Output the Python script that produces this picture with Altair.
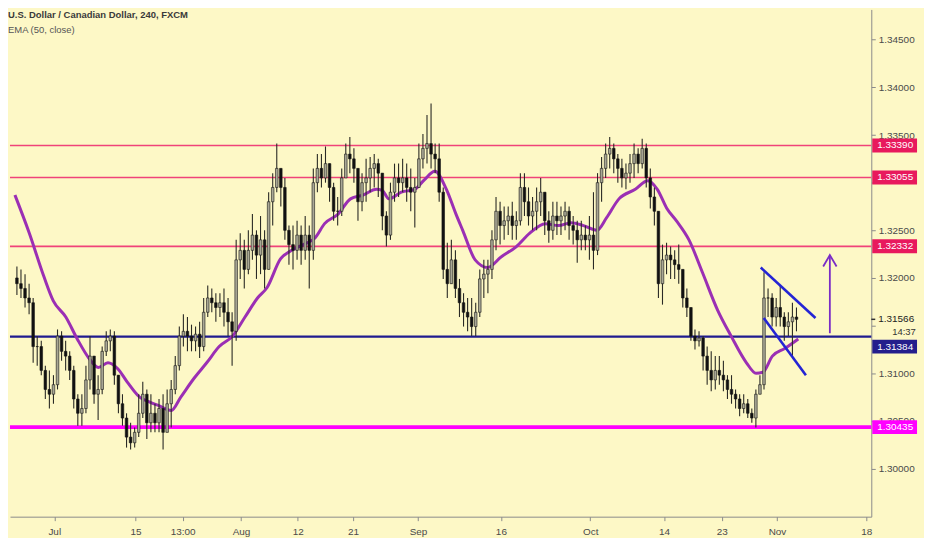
import altair as alt
import numpy as np
import pandas as pd

# ---------------- data ----------------
# price columns: half-day buckets on a trading-day axis (0 = Jul 1)
start_day = -4.6
step_day = 0.5

high = [
 1.3212,1.3209,1.3204,1.3194,1.3179,1.3139,1.3134,1.3108,1.3103,1.3098,
 1.3146,1.3144,1.3134,1.3123,1.3108,1.3078,1.3078,1.3108,1.3139,1.3108,
 1.3098,1.3128,1.3144,1.3146,1.3144,1.3098,1.3078,1.3058,1.3048,1.3043,
 1.3078,1.3091,1.3083,1.3078,1.3068,1.3073,1.3078,1.3083,1.3093,1.3118,
 1.3149,1.3162,1.3159,1.3151,1.3149,1.3154,1.3179,1.3192,1.3189,1.3184,
 1.3184,1.3189,1.3179,1.3164,1.3240,1.3247,1.3240,1.3250,1.3267,1.3250,
 1.3265,1.3250,1.3290,1.3310,1.3341,1.3315,1.3305,1.3255,1.3255,1.3260,
 1.3255,1.3265,1.3255,1.3315,1.3330,1.3330,1.3338,1.3320,1.3300,1.3285,
 1.3315,1.3341,1.3348,1.3336,1.3315,1.3310,1.3325,1.3327,1.3330,1.3325,
 1.3300,1.3270,1.3300,1.3320,1.3320,1.3325,1.3320,1.3315,1.3305,1.3341,
 1.3351,1.3371,1.3383,1.3341,1.3341,1.3295,1.3237,1.3240,1.3229,1.3199,
 1.3184,1.3179,1.3179,1.3174,1.3209,1.3219,1.3219,1.3250,1.3285,1.3280,
 1.3275,1.3275,1.3280,1.3270,1.3310,1.3310,1.3295,1.3285,1.3295,1.3305,
 1.3290,1.3270,1.3280,1.3280,1.3275,1.3280,1.3275,1.3265,1.3260,1.3260,
 1.3255,1.3265,1.3290,1.3310,1.3327,1.3341,1.3348,1.3341,1.3330,1.3325,
 1.3320,1.3330,1.3341,1.3336,1.3346,1.3341,1.3315,1.3295,1.3270,1.3235,
 1.3237,1.3233,1.3229,1.3235,1.3209,1.3189,1.3159,1.3146,1.3144,1.3139,
 1.3128,1.3123,1.3118,1.3118,1.3113,1.3098,1.3098,1.3083,1.3078,1.3078,
 1.3073,1.3063,1.3083,1.3098,1.3206,1.3189,1.3184,1.3179,1.3192,1.3164,
 1.3164,1.3174,1.3169,
]
low = [
 1.3182,1.3179,1.3169,1.3162,1.3111,1.3108,1.3098,1.3073,1.3063,1.3068,
 1.3083,1.3113,1.3103,1.3093,1.3063,1.3045,1.3045,1.3058,1.3083,1.3068,
 1.3051,1.3078,1.3118,1.3123,1.3088,1.3058,1.3045,1.3022,1.3020,1.3022,
 1.3033,1.3053,1.3031,1.3038,1.3038,1.3038,1.3020,1.3038,1.3043,1.3078,
 1.3103,1.3128,1.3123,1.3123,1.3123,1.3116,1.3123,1.3159,1.3164,1.3154,
 1.3159,1.3149,1.3139,1.3108,1.3134,1.3199,1.3189,1.3204,1.3219,1.3199,
 1.3204,1.3189,1.3209,1.3255,1.3290,1.3275,1.3240,1.3214,1.3209,1.3219,
 1.3214,1.3219,1.3189,1.3219,1.3290,1.3295,1.3300,1.3280,1.3260,1.3255,
 1.3265,1.3305,1.3310,1.3300,1.3260,1.3270,1.3280,1.3290,1.3295,1.3285,
 1.3250,1.3233,1.3240,1.3280,1.3285,1.3290,1.3280,1.3270,1.3253,1.3295,
 1.3315,1.3320,1.3315,1.3310,1.3280,1.3199,1.3179,1.3199,1.3179,1.3159,
 1.3149,1.3144,1.3139,1.3139,1.3159,1.3179,1.3184,1.3199,1.3229,1.3235,
 1.3240,1.3245,1.3240,1.3240,1.3255,1.3265,1.3255,1.3250,1.3250,1.3265,
 1.3245,1.3237,1.3240,1.3245,1.3245,1.3250,1.3240,1.3235,1.3216,1.3229,
 1.3229,1.3219,1.3209,1.3224,1.3280,1.3305,1.3315,1.3310,1.3300,1.3295,
 1.3293,1.3300,1.3305,1.3310,1.3315,1.3295,1.3273,1.3255,1.3179,1.3172,
 1.3204,1.3199,1.3199,1.3194,1.3169,1.3159,1.3134,1.3125,1.3128,1.3103,
 1.3088,1.3081,1.3083,1.3088,1.3081,1.3073,1.3068,1.3063,1.3055,1.3058,
 1.3053,1.3048,1.3043,1.3078,1.3083,1.3159,1.3149,1.3149,1.3149,1.3134,
 1.3139,1.3118,1.3144,
]
close = [
 1.3194,1.3189,1.3179,1.3174,1.3128,1.3128,1.3103,1.3083,1.3078,1.3088,
 1.3139,1.3123,1.3118,1.3103,1.3073,1.3058,1.3063,1.3093,1.3118,1.3078,
 1.3083,1.3123,1.3134,1.3139,1.3098,1.3068,1.3053,1.3033,1.3027,1.3038,
 1.3058,1.3078,1.3048,1.3058,1.3048,1.3063,1.3038,1.3068,1.3083,1.3108,
 1.3139,1.3144,1.3139,1.3134,1.3141,1.3128,1.3164,1.3179,1.3174,1.3169,
 1.3174,1.3164,1.3154,1.3144,1.3219,1.3229,1.3209,1.3229,1.3245,1.3224,
 1.3240,1.3209,1.3280,1.3295,1.3315,1.3295,1.3250,1.3235,1.3229,1.3245,
 1.3229,1.3245,1.3229,1.3300,1.3315,1.3305,1.3320,1.3295,1.3270,1.3270,
 1.3305,1.3330,1.3325,1.3315,1.3280,1.3300,1.3305,1.3315,1.3320,1.3310,
 1.3265,1.3245,1.3290,1.3305,1.3300,1.3305,1.3295,1.3290,1.3295,1.3325,
 1.3336,1.3341,1.3330,1.3325,1.3290,1.3209,1.3194,1.3219,1.3189,1.3174,
 1.3164,1.3159,1.3149,1.3164,1.3199,1.3204,1.3209,1.3240,1.3270,1.3255,
 1.3260,1.3265,1.3255,1.3260,1.3295,1.3280,1.3265,1.3270,1.3280,1.3290,
 1.3260,1.3250,1.3265,1.3260,1.3265,1.3270,1.3255,1.3250,1.3240,1.3245,
 1.3240,1.3245,1.3229,1.3300,1.3315,1.3330,1.3336,1.3325,1.3315,1.3305,
 1.3310,1.3320,1.3330,1.3320,1.3336,1.3305,1.3285,1.3270,1.3194,1.3219,
 1.3224,1.3219,1.3214,1.3209,1.3179,1.3169,1.3139,1.3134,1.3137,1.3118,
 1.3103,1.3093,1.3103,1.3098,1.3093,1.3083,1.3078,1.3073,1.3063,1.3068,
 1.3058,1.3053,1.3078,1.3088,1.3179,1.3179,1.3159,1.3169,1.3159,1.3149,
 1.3154,1.3159,1.31566,
]
first_open = 1.3200

# EMA(50, close)
ema_day = [-4.84,-3.07,-1.30,-0.12,1.42,2.83,4.25,5.43,6.61,7.79,8.97,10.51,11.69,12.87,
           14.41,15.58,17.24,18.77,20.31,21.96,23.49,25.03,26.21,27.86,29.04,30.93,32.11,
           33.29,34.95,36.48,38.02,39.67,40.38,41.20,42.74,44.39,45.57,46.87,48.29,49.47,
           50.30,51.83,53.36,55.02,56.91,58.56,60.45,62.10,63.64,65.17,66.82,68.00,69.54,
           71.55,73.08,74.26,75.44,76.62,78.16,79.81,81.70,83.35,85.24,86.42,87.25,88.43,
           89.96,91.62]
ema_val = [1.3287,1.3247,1.3202,1.3176,1.3159,1.3136,1.3116,1.3106,1.3111,1.3105,1.3091,
           1.3075,1.3070,1.3066,1.3061,1.3075,1.3095,1.3111,1.3128,1.3139,1.3159,1.3179,
           1.3190,1.3220,1.3228,1.3236,1.3242,1.3257,1.3267,1.3283,1.3287,1.3293,1.3292,
           1.3283,1.3290,1.3293,1.3303,1.3312,1.3293,1.3267,1.3250,1.3219,1.3211,1.3222,
           1.3233,1.3247,1.3257,1.3255,1.3258,1.3255,1.3250,1.3263,1.3283,1.3293,1.3302,
           1.3293,1.3273,1.3260,1.3240,1.3206,1.3166,1.3139,1.3111,1.3100,1.3101,1.3118,
           1.3126,1.3136]

# horizontal levels
levels = [1.33390, 1.33055, 1.32332, 1.31384, 1.30435]
level_text = ["1.33390", "1.33055", "1.32332", "1.31384", "1.30435"]
level_line_color = ["#f0437a", "#f0437a", "#f0437a", "#1f1b8f", "#ff00ff"]
level_line_width = [1.6, 1.6, 1.6, 2.2, 3.6]
level_box_color = ["#e8195d", "#e8195d", "#e8195d", "#241e8c", "#ff00ff"]
level_box_shift = [0, 0, 0, 10, 0]   # the 1.31384 tag is pushed down under the countdown

# drawings (trading day, price)
channel_grp = ["upper", "upper", "lower", "lower"]
channel_day = [87.0, 93.74, 87.37, 92.56]
channel_px = [1.3211, 1.3158, 1.3158, 1.3098]

arrow_grp = ["shaft", "shaft", "head", "head", "head"]
arrow_day = [95.51, 95.51, 94.69, 95.51, 96.34]
arrow_px = [1.3142, 1.3224, 1.3212, 1.3224, 1.3212]

last_price = 1.31566
last_text = "1.31566"
countdown = "14:37"

# x axis ticks (trading-day positions) and labels
tick_days = [0, 10, 15.8, 23, 30, 36.8, 44.8, 55, 66, 75.1, 82.2, 89, 100]
tick_labels = ["Jul", "15", "13:00", "Aug", "12", "21", "Sep", "16", "Oct", "14", "23", "Nov", "18"]
y_ticks = [1.300, 1.305, 1.310, 1.315, 1.320, 1.325, 1.330, 1.335, 1.340, 1.345]
y_hidden = [1.315, 1.330]   # labels covered by the price tags

# ---------------- build ----------------
W, H = 866, 510
BG = "#fdf8c6"
FONT = "Liberation Sans"

n = len(close)
days = start_day + step_day * np.arange(n)
opens = [first_open] + close[:-1]
candles = pd.DataFrame({"d": days, "o": opens, "h": high, "l": low, "c": close})
candles["wl"] = candles[["o", "l", "c"]].min(axis=1)
candles["wh"] = candles[["o", "h", "c"]].max(axis=1)
candles["dir"] = np.where(candles["c"] >= candles["o"], "up", "down")

xs = alt.Scale(domain=[-4.84, 100.0], nice=False, zero=False)
ys = alt.Scale(domain=[1.29495, 1.34818], nice=False, zero=False)

expr = ""
for v, lab in zip(tick_days, tick_labels):
    expr += f"datum.value == {v} ? '{lab}' : "
expr += "''"

yexpr = " || ".join(f"datum.value == {v}" for v in y_hidden) + " ? '' : format(datum.value, '.5f')"

x_axis = alt.Axis(values=tick_days, labelExpr=expr, grid=False, title=None,
                  tickSize=4, labelFontSize=10, labelPadding=6, labelOverlap=False,
                  labelFlush=False, labelColor="#4a4a4a", tickColor="#8a8a8a",
                  domainColor="#8a8a8a", labelFont=FONT)
y_axis = alt.Axis(values=y_ticks, labelExpr=yexpr, orient="right", grid=False, title=None,
                  tickSize=4, labelFontSize=10, labelPadding=3, labelColor="#4a4a4a",
                  tickColor="#8a8a8a", domainColor="#8a8a8a", labelFont=FONT,
                  labelOverlap=False, labelFlush=False)


def X(f):
    return alt.X(f"{f}:Q", scale=xs, axis=x_axis)


def Y(f):
    return alt.Y(f"{f}:Q", scale=ys, axis=y_axis)


lev = pd.DataFrame({"p": levels, "t": level_text, "lc": level_line_color,
                    "lw": level_line_width, "bc": level_box_color, "s": level_box_shift})
lev_plain = lev[lev["s"] == 0]
lev_shift = lev[lev["s"] != 0]

level_rules = alt.Chart(lev).mark_rule().encode(
    y=Y("p"),
    color=alt.Color("lc:N", scale=None),
    strokeWidth=alt.StrokeWidth("lw:Q", scale=None),
)

ema = alt.Chart(pd.DataFrame({"d": ema_day, "v": ema_val})).mark_line(
    color="#9b2fb4", strokeWidth=3, interpolate="monotone"
).encode(x=X("d"), y=Y("v"))

wicks = alt.Chart(candles).mark_rule(color="#2a2a25", strokeWidth=1.1).encode(
    x=X("d"), y=Y("wl"), y2="wh"
)
bodies = alt.Chart(candles).mark_bar(width=2.6, stroke="#141414", strokeWidth=0.6).encode(
    x=X("d"), y=Y("o"), y2="c",
    color=alt.Color("dir:N", scale=alt.Scale(domain=["up", "down"], range=["#a9a896", "#111111"]),
                    legend=None),
)

channel = alt.Chart(pd.DataFrame({"g": channel_grp, "d": channel_day, "p": channel_px})).mark_line(
    color="#2424d4", strokeWidth=2.6
).encode(x=X("d"), y=Y("p"), detail="g:N")

arrow = alt.Chart(pd.DataFrame({"g": arrow_grp, "d": arrow_day, "p": arrow_px,
                                "o": list(range(len(arrow_grp)))})).mark_line(
    color="#7a2cc6", strokeWidth=1.8
).encode(x=X("d"), y=Y("p"), detail="g:N", order="o:Q")


def tag_layers(df, shift):
    box = alt.Chart(df).mark_rule(strokeWidth=14, clip=False, yOffset=shift).encode(
        x=alt.value(W + 1), x2=alt.value(W + 46), y=Y("p"),
        color=alt.Color("bc:N", scale=None),
    )
    txt = alt.Chart(df).mark_text(align="left", baseline="middle", color="white",
                                  fontSize=10, font=FONT, clip=False, dy=shift).encode(
        x=alt.value(W + 6), y=Y("p"), text="t:N"
    )
    return [box, txt]


tags = tag_layers(lev_plain, 0) + tag_layers(lev_shift, int(level_box_shift[3]))

last_df = pd.DataFrame({"p": [last_price], "t": [last_text], "cd": [countdown]})
last_lbl = alt.Chart(last_df).mark_text(align="left", baseline="middle", color="#222222",
                                        fontSize=10, font=FONT).encode(
    x=alt.value(W + 7), y=Y("p"), text="t:N"
)
last_cd = alt.Chart(last_df).mark_text(align="left", baseline="middle", color="#333333",
                                       fontSize=9.5, font=FONT, dy=13, dx=14).encode(
    x=alt.value(W + 7), y=Y("p"), text="cd:N"
)
last_tick = alt.Chart(last_df).mark_rule(color="#333333", strokeWidth=1.5).encode(
    x=alt.value(W), x2=alt.value(W + 4), y=Y("p")
)

title_df = pd.DataFrame({"t": ["U.S. Dollar / Canadian Dollar, 240, FXCM"]})
title1 = alt.Chart(title_df).mark_text(align="left", baseline="middle", color="#3a3a3a",
                                       fontSize=9.5, fontWeight="bold", font=FONT).encode(
    x=alt.value(-2), y=alt.value(6), text="t:N"
)
sub_df = pd.DataFrame({"t": ["EMA (50, close)"]})
title2 = alt.Chart(sub_df).mark_text(align="left", baseline="middle", color="#555555",
                                     fontSize=9.5, font=FONT).encode(
    x=alt.value(-2), y=alt.value(21), text="t:N"
)

chart = alt.layer(
    level_rules, ema, wicks, bodies, channel, arrow,
    *tags, last_tick, last_lbl, last_cd, title1, title2
).properties(
    width=W, height=H, background=BG, padding=0
).configure_view(stroke=None, fill=BG)

chart.save("out.html", embed_options={"renderer": "svg", "actions": False})
